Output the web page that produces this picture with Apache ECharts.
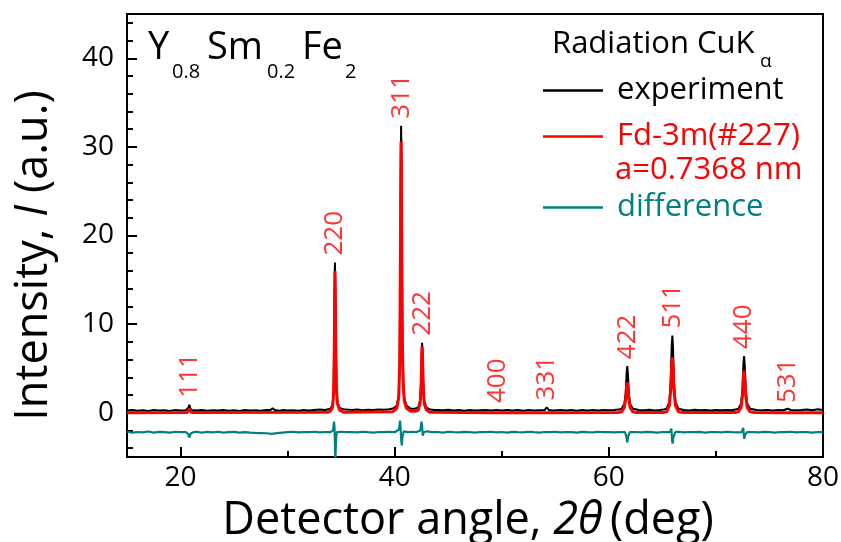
<!DOCTYPE html>
<html>
<head>
<meta charset="utf-8">
<script src="https://cdn.jsdelivr.net/npm/echarts@6/dist/echarts.min.js"></script>
<style>
html,body{margin:0;padding:0;background:#fff;}
#chart{width:841px;height:542px;}
</style>
</head>
<body>
<div id="chart"></div>
<script>
// ---- Data ----
const experiment = [
  [15,0.25],[15.5,0.3],[16,0.22],[16.5,0.28],[17,0.2],[17.5,0.3],[18,0.24],[18.5,0.27],[19,0.2],[19.5,0.3],[20,0.25],[20.5,0.28],
  [20.65,0.3],[20.75,0.6],[20.82,0.9],[20.9,0.55],[21,0.3],
  [21.5,0.25],[22,0.3],[22.5,0.22],[23,0.28],[23.5,0.24],[24,0.3],[24.5,0.22],[25,0.27],[25.5,0.2],[26,0.3],[26.5,0.25],[27,0.28],[27.5,0.22],[28,0.3],
  [28.4,0.3],[28.6,0.5],[28.8,0.3],[29.2,0.22],[29.6,0.3],[30,0.25],[30.5,0.28],[31,0.22],[31.5,0.3],[32,0.25],[32.5,0.3],[33,0.35],[33.5,0.3],
  [34.0,0.45],[34.2,0.9],[34.3,2.5],[34.36,8],[34.4,14.5],[34.42,16.95],[34.45,14.5],[34.5,8],[34.56,3],[34.65,1.2],[34.85,0.55],
  [35.2,0.4],[35.5,0.35],[36,0.3],[36.5,0.35],[37,0.28],[37.5,0.32],[38,0.3],[38.5,0.35],[39,0.32],[39.5,0.4],[39.9,0.5],
  [40.2,0.8],[40.38,2],[40.47,6],[40.53,18],[40.58,30],[40.6,32.4],[40.63,29],[40.67,18],[40.72,8],[40.8,3.5],[40.9,1.6],[41.1,0.8],[41.5,0.45],[41.9,0.45],
  [42.2,0.6],[42.38,1.4],[42.47,3.5],[42.53,7],[42.56,7.9],[42.6,6.8],[42.66,3.5],[42.75,1.4],[42.95,0.6],[43.3,0.35],
  [43.7,0.3],[44,0.3],[44.5,0.28],[45,0.32],[45.5,0.25],[46,0.3],[46.5,0.22],[47,0.3],[47.5,0.25],[48,0.28],[48.5,0.3],[49,0.24],[49.5,0.3],[50,0.25],
  [50.5,0.3],[51,0.24],[51.5,0.3],[52,0.22],[52.5,0.3],[53,0.26],[53.5,0.28],[54,0.3],[54.2,0.6],[54.4,0.3],[54.8,0.25],[55.5,0.3],[56,0.25],[56.5,0.3],
  [57,0.22],[57.5,0.3],[58,0.26],[58.5,0.3],[59,0.25],[59.5,0.3],[60,0.28],[60.5,0.3],[60.9,0.35],
  [61.2,0.45],[61.45,1],[61.58,2.3],[61.66,4.5],[61.72,5.25],[61.78,4.4],[61.86,2.3],[61.98,1],[62.25,0.45],
  [62.8,0.3],[63.3,0.28],[63.8,0.32],[64.3,0.26],[64.8,0.3],[65.1,0.35],
  [65.4,0.45],[65.65,1.2],[65.78,3.5],[65.87,7.5],[65.93,8.7],[65.99,7.4],[66.08,3.5],[66.22,1.2],[66.5,0.45],
  [67,0.3],[67.5,0.26],[68,0.32],[68.5,0.27],[69,0.3],[69.5,0.25],[70,0.3],[70.5,0.28],[71,0.3],[71.5,0.27],[71.8,0.35],
  [72.1,0.45],[72.35,1],[72.49,2.8],[72.57,5.6],[72.63,6.4],[72.69,5.4],[72.78,2.7],[72.92,1],[73.2,0.45],
  [73.8,0.3],[74.3,0.28],[74.8,0.3],[75.3,0.25],[75.8,0.3],[76.3,0.28],[76.7,0.45],[77,0.3],[77.5,0.27],[78,0.3],[78.5,0.35],[79,0.28],[79.5,0.38],[80,0.3]
];

const calculated = [
  [15,0],[20.6,0.02],[20.74,0.2],[20.82,0.4],[20.9,0.2],[21.05,0.02],
  [33.8,0.05],[34.0,0.2],[34.2,0.6],[34.3,2.2],[34.36,7.5],[34.4,13.8],[34.42,16.0],[34.45,13.8],[34.5,7.5],[34.56,2.7],[34.65,1],[34.85,0.3],[35.2,0.05],
  [39.8,0.1],[40.2,0.5],[40.38,1.7],[40.47,5.5],[40.53,17],[40.58,28.5],[40.6,30.6],[40.63,27.5],[40.67,17],[40.72,7.5],[40.8,3],[40.9,1.3],[41.1,0.5],[41.5,0.15],
  [41.9,0.15],[42.2,0.3],[42.38,1.1],[42.47,3.2],[42.53,6.6],[42.56,7.5],[42.6,6.4],[42.66,3.2],[42.75,1.1],[42.95,0.3],[43.3,0.05],
  [49.45,0],[49.58,0.1],[49.7,0],[54.1,0],[54.23,0.2],[54.36,0],
  [60.9,0.02],[61.2,0.1],[61.45,0.6],[61.58,1.6],[61.66,3.0],[61.72,3.4],[61.78,2.9],[61.86,1.6],[61.98,0.6],[62.25,0.1],[62.6,0.02],
  [65.1,0.02],[65.4,0.1],[65.65,0.8],[65.78,2.6],[65.87,5.5],[65.93,6.25],[65.99,5.4],[66.08,2.6],[66.22,0.8],[66.5,0.1],[66.9,0.02],
  [71.8,0.02],[72.1,0.1],[72.35,0.6],[72.49,2.0],[72.57,4.2],[72.63,4.75],[72.69,4.1],[72.78,2.0],[72.92,0.6],[73.2,0.1],[73.6,0.02],
  [76.55,0],[76.72,0.15],[76.9,0],[80,0]
];

const difference = [
  [15,-2.15],[15.5,-2.25],[16,-2.18],[16.5,-2.22],[17,-2.12],[17.5,-2.24],[18,-2.16],[18.5,-2.2],[19,-2.25],[19.5,-2.15],[20,-2.2],[20.5,-2.18],
  [20.7,-2.4],[20.82,-2.8],[20.95,-2.35],[21.2,-2.2],[21.5,-2.15],[22,-2.25],[22.5,-2.17],[23,-2.22],[23.5,-2.15],[24,-2.25],[24.5,-2.2],[25,-2.16],
  [25.5,-2.24],[26,-2.2],[26.5,-2.25],[27,-2.28],[27.5,-2.3],[28,-2.32],[28.5,-2.38],[29,-2.3],[29.5,-2.25],[30,-2.2],[30.5,-2.15],[31,-2.22],
  [31.5,-2.18],[32,-2.2],[32.5,-2.15],[33,-2.22],[33.5,-2.18],[34,-2.2],
  [34.25,-2.0],[34.33,-1.0],[34.38,-1.6],[34.42,-3.5],[34.46,-5.4],[34.52,-3.0],[34.6,-2.2],
  [35,-2.15],[35.5,-2.2],[36,-2.18],[36.5,-2.22],[37,-2.15],[37.5,-2.2],[38,-2.24],[38.5,-2.18],[39,-2.2],[39.5,-2.15],[40,-2.2],
  [40.4,-1.9],[40.5,-0.9],[40.55,-1.8],[40.6,-2.9],[40.66,-3.7],[40.72,-2.8],[40.85,-2.1],[41.2,-2.2],[41.6,-2.15],[42,-2.2],
  [42.4,-2.0],[42.5,-1.0],[42.56,-1.5],[42.62,-2.6],[42.72,-2.2],[43,-2.1],[43.5,-2.2],[44,-2.18],[44.5,-2.24],[45,-2.15],[45.5,-2.2],
  [46,-2.22],[46.5,-2.16],[47,-2.2],[47.5,-2.25],[48,-2.18],[48.5,-2.2],[49,-2.15],[49.5,-2.22],[50,-2.18],[50.5,-2.24],[51,-2.16],
  [51.5,-2.2],[52,-2.22],[52.5,-2.15],[53,-2.2],[53.5,-2.24],[54,-2.18],[54.5,-2.2],[55,-2.15],[55.5,-2.22],[56,-2.18],[56.5,-2.2],
  [57,-2.24],[57.5,-2.16],[58,-2.2],[58.5,-2.22],[59,-2.15],[59.5,-2.2],[60,-2.18],[60.5,-2.22],[61,-2.2],
  [61.5,-2.2],[61.62,-2.6],[61.72,-3.35],[61.8,-2.7],[61.95,-2.2],[62.5,-2.18],[63,-2.22],[63.5,-2.16],[64,-2.2],[64.5,-2.24],[65,-2.18],[65.5,-2.2],
  [65.7,-2.2],[65.84,-1.8],[65.9,-3.0],[65.95,-3.5],[66.02,-2.8],[66.2,-2.2],[66.5,-2.15],[67,-2.22],[67.5,-2.18],[68,-2.2],[68.5,-2.16],
  [69,-2.24],[69.5,-2.2],[70,-2.18],[70.5,-2.22],[71,-2.15],[71.5,-2.2],[72,-2.22],
  [72.4,-2.2],[72.55,-1.7],[72.6,-2.5],[72.65,-2.95],[72.72,-2.5],[72.9,-2.2],[73.5,-2.18],[74,-2.22],[74.5,-2.16],[75,-2.2],[75.5,-2.24],
  [76,-2.18],[76.5,-2.2],[77,-2.15],[77.5,-2.22],[78,-2.18],[78.5,-2.2],[79,-2.24],[79.5,-2.18],[80,-2.2]
];

const hklLabels    = ['111','220','311','222','400','331','422','511','440','531'];
const hklAngles    = [20.82, 34.42, 40.6, 42.56, 49.6, 54.23, 61.72, 65.93, 72.63, 76.72];
const hklIntensity = [0.9, 16.95, 32.4, 7.9, 0.3, 0.6, 5.25, 8.7, 6.4, 0.3];

const xMajorTicks = [20, 40, 60, 80];
const xMinorTicks = [30, 50, 70];
const yMajorTicks = [0, 10, 20, 30, 40];
const yMinorTicks = [-4,-2,2,4,6,8,12,14,16,18,22,24,26,28,32,34,36,38,42,44];

const seriesNames = ['experiment', 'Fd-3m(#227)', 'difference'];

// ---- Chart ----
const FONT = "'Open Sans', sans-serif";
const RED = '#ff0000';
const TEAL = '#008080';
const chart = echarts.init(document.getElementById('chart'), null, {renderer: 'canvas'});

const axisCommonX = {type: 'value', min: 15, max: 80, position: 'bottom', splitLine: {show: false}};
const axisCommonY = {type: 'value', min: -5, max: 45, position: 'left', splitLine: {show: false}};

const option = {
  animation: false,
  backgroundColor: '#fff',
  grid: {left: 127, right: 18, top: 14, bottom: 85, containLabel: false, outerBoundsMode: 'none',
    show: true, borderColor: '#000', borderWidth: 2, backgroundColor: 'transparent'},
  xAxis: [
    Object.assign({}, axisCommonX, {
      axisLine: {onZero: false, lineStyle: {color: '#000', width: 2}},
      axisTick: {inside: true, length: 10, customValues: xMajorTicks, lineStyle: {color: '#000', width: 2}},
      axisLabel: {customValues: xMajorTicks, fontSize: 28, fontFamily: FONT, color: '#000', margin: 7},
      name: 'Detector angle, {i|2θ}\u2009(deg)',
      nameLocation: 'middle',
      nameGap: 42,
      nameTextStyle: {fontSize: 45, fontFamily: FONT, color: '#000', padding: [0, 14, 0, 0],
        rich: {i: {fontSize: 45, fontFamily: FONT, fontStyle: 'italic', color: '#000'}}}
    }),
    Object.assign({}, axisCommonX, {
      axisLine: {show: false, onZero: false},
      axisTick: {inside: true, length: 6, customValues: xMinorTicks, lineStyle: {color: '#000', width: 2}},
      axisLabel: {show: false}
    })
  ],
  yAxis: [
    Object.assign({}, axisCommonY, {
      axisLine: {onZero: false, lineStyle: {color: '#000', width: 2}},
      axisTick: {inside: true, length: 10, customValues: yMajorTicks, lineStyle: {color: '#000', width: 2}},
      axisLabel: {customValues: yMajorTicks, fontSize: 28, fontFamily: FONT, color: '#000', margin: 13},
      name: 'Intensity, {i|I} (a.u.)',
      nameLocation: 'middle',
      nameGap: 70,
      nameTextStyle: {fontSize: 45, fontFamily: FONT, color: '#000', padding: [0, 40, 0, 0],
        rich: {i: {fontSize: 45, fontFamily: FONT, fontStyle: 'italic', color: '#000'}}}
    }),
    Object.assign({}, axisCommonY, {
      axisLine: {show: false, onZero: false},
      axisTick: {inside: true, length: 6, customValues: yMinorTicks, lineStyle: {color: '#000', width: 2}},
      axisLabel: {show: false}
    })
  ],
  legend: [
    {
      data: [
        {name: seriesNames[0], textStyle: {color: '#000'}},
        {name: seriesNames[1], textStyle: {color: RED}}
      ],
      orient: 'vertical', left: 538, top: 70, icon: 'rect', itemWidth: 60, itemHeight: 2.5, itemGap: 15,
      selectedMode: false,
      textStyle: {fontSize: 31, fontFamily: FONT, padding: [0, 0, 0, 9]}
    },
    {
      data: [{name: seriesNames[2], textStyle: {color: TEAL}}],
      orient: 'vertical', left: 538, top: 187, icon: 'rect', itemWidth: 60, itemHeight: 2.5,
      selectedMode: false,
      textStyle: {fontSize: 31, fontFamily: FONT, padding: [0, 0, 0, 9]}
    }
  ],
  graphic: [
    {type: 'text', x: 148, y: 48.5, style: {text: 'Y', fontSize: 38, fontFamily: FONT, fill: '#000', align: 'left', verticalAlign: 'middle'}},
    {type: 'text', x: 172, y: 72, style: {text: '0.8', fontSize: 20, fontFamily: FONT, fill: '#000', align: 'left', verticalAlign: 'middle'}},
    {type: 'text', x: 207, y: 48.5, style: {text: 'Sm', fontSize: 38, fontFamily: FONT, fill: '#000', align: 'left', verticalAlign: 'middle'}},
    {type: 'text', x: 267, y: 72, style: {text: '0.2', fontSize: 20, fontFamily: FONT, fill: '#000', align: 'left', verticalAlign: 'middle'}},
    {type: 'text', x: 302, y: 48.5, style: {text: 'Fe', fontSize: 38, fontFamily: FONT, fill: '#000', align: 'left', verticalAlign: 'middle'}},
    {type: 'text', x: 345, y: 72, style: {text: '2', fontSize: 20, fontFamily: FONT, fill: '#000', align: 'left', verticalAlign: 'middle'}},
    {type: 'text', x: 552, y: 44, style: {text: 'Radiation CuK', fontSize: 31, fontFamily: FONT, fill: '#000', align: 'left', verticalAlign: 'middle'}},
    {type: 'text', x: 760, y: 62, style: {text: 'α', fontSize: 19, fontFamily: FONT, fill: '#000', align: 'left', verticalAlign: 'middle'}},
    {type: 'text', x: 615, y: 170, style: {text: 'a=0.7368 nm', fontSize: 31, fontFamily: FONT, fill: RED, align: 'left', verticalAlign: 'middle'}}
  ],
  series: [
    {name: seriesNames[0], type: 'line', data: experiment, symbol: 'none', showSymbol: false, z: 2,
      lineStyle: {color: '#000', width: 2}, itemStyle: {color: '#000'}},
    {name: seriesNames[1], type: 'line', data: calculated, symbol: 'none', showSymbol: false, z: 3,
      lineStyle: {color: RED, width: 3}, itemStyle: {color: RED}},
    {name: seriesNames[2], type: 'line', data: difference, symbol: 'none', showSymbol: false, z: 4,
      lineStyle: {color: TEAL, width: 2.2}, itemStyle: {color: TEAL}},
    {name: 'hkl', type: 'scatter', z: 5, silent: true, symbolSize: 0,
      data: hklAngles.map((a, i) => [a, hklIntensity[i], hklLabels[i]]),
      itemStyle: {color: 'rgba(0,0,0,0)'},
      label: {show: true, position: 'top', distance: 7, rotate: 90, align: 'left', verticalAlign: 'middle',
        formatter: p => p.data[2], color: RED, fontSize: 26, fontFamily: FONT}}
  ]
};
chart.setOption(option);
</script>
</body>
</html>
